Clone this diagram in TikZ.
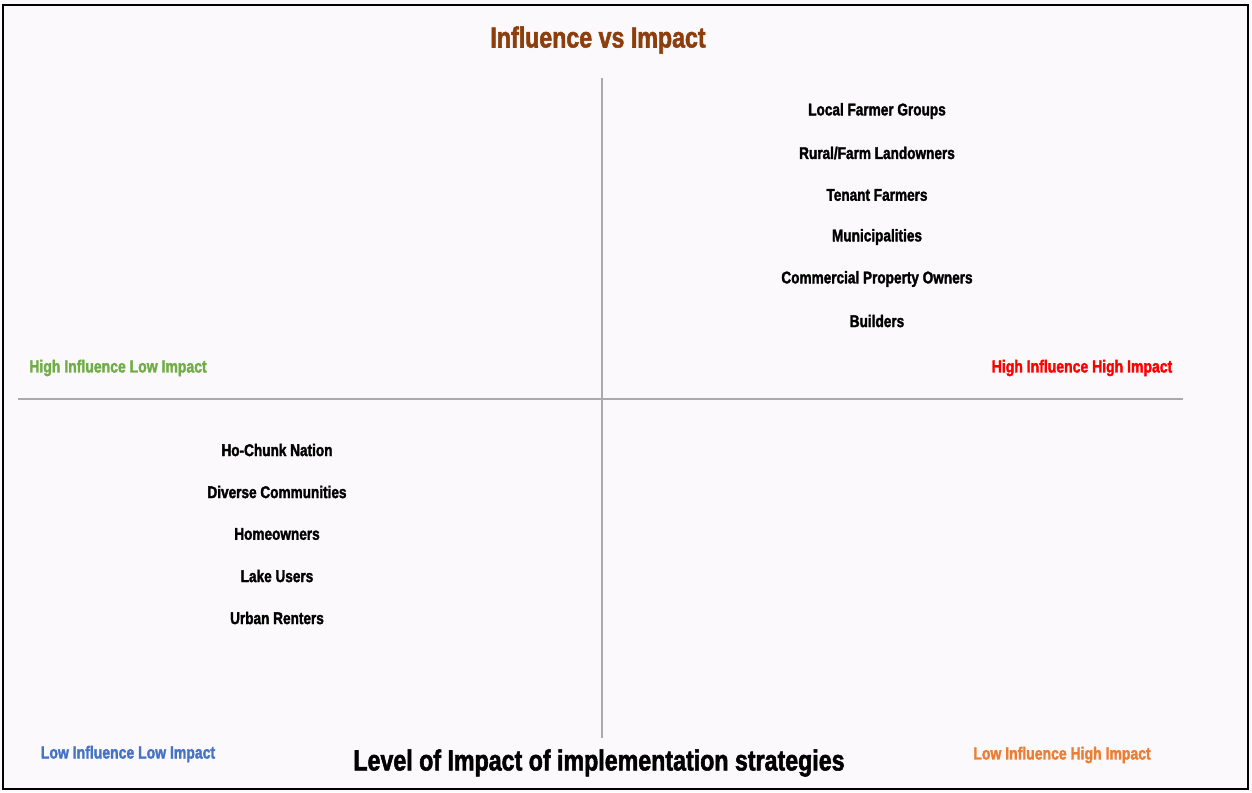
\documentclass[tikz,border=0pt]{standalone}
\usepackage{fontspec}
\setmainfont[FakeStretch=0.8, BoldFeatures={FakeBold=1.8}]{Liberation Sans}
\usepackage{tikz}

\definecolor{pagebg}{RGB}{252,249,252}
\definecolor{titlebrown}{RGB}{140,62,12}
\definecolor{hlgreen}{RGB}{112,173,71}
\definecolor{hhred}{RGB}{255,0,0}
\definecolor{llblue}{RGB}{68,114,196}
\definecolor{lhorange}{RGB}{237,125,49}
\definecolor{axisgray}{RGB}{170,170,170}

\begin{document}
\begin{tikzpicture}[x=1pt, y=-1pt,
    item/.style={font=\bfseries\fontsize{17}{19}\selectfont, inner sep=0pt},
    corner/.style={font=\bfseries\fontsize{17.5}{19}\selectfont, inner sep=0pt},
    heading/.style={font=\bfseries\fontsize{29}{32}\selectfont, inner sep=0pt}]
    \useasboundingbox (0,0) rectangle (1252,792);
    \fill[pagebg] (0,0) rectangle (1252,792);
    \draw[line width=2pt] (3,5) rectangle (1248,789);

    % axes
    \coordinate (top) at (602,78);
    \coordinate (bottom) at (602,738);
    \coordinate (left) at (18,399);
    \coordinate (right) at (1183,399);
    \draw[axisgray, line width=1.8pt] (top) -- (bottom);
    \draw[axisgray, line width=1.8pt] (left) -- (right);

    \node[heading, titlebrown] (title) at (598,40) {Influence vs Impact};
    \node[heading] (xlabel) at (599,763) {Level of Impact of implementation strategies};

    % quadrant names
    \node[corner, hlgreen] (hl) at (118,368) {High Influence Low Impact};
    \node[corner, hhred] (hh) at (1082,368) {High Influence High Impact};
    \node[corner, llblue] (ll) at (128,754) {Low Influence Low Impact};
    \node[corner, lhorange] (lh) at (1062,755) {Low Influence High Impact};

    % high influence, high impact
    \node[item] (farmgroups) at (877,111) {Local Farmer Groups};
    \node[item] (landowners) at (877,153) {Rural/Farm Landowners};
    \node[item] (tenants) at (877,195) {Tenant Farmers};
    \node[item] (municipal) at (877,237) {Municipalities};
    \node[item] (commercial) at (877,279) {Commercial Property Owners};
    \node[item] (builders) at (877,321) {Builders};

    % low influence, low impact
    \node[item] (hochunk) at (277,450) {Ho-Chunk Nation};
    \node[item] (diverse) at (277,492) {Diverse Communities};
    \node[item] (homeowners) at (277,534) {Homeowners};
    \node[item] (lake) at (277,576) {Lake Users};
    \node[item] (renters) at (277,618) {Urban Renters};
\end{tikzpicture}
\end{document}
